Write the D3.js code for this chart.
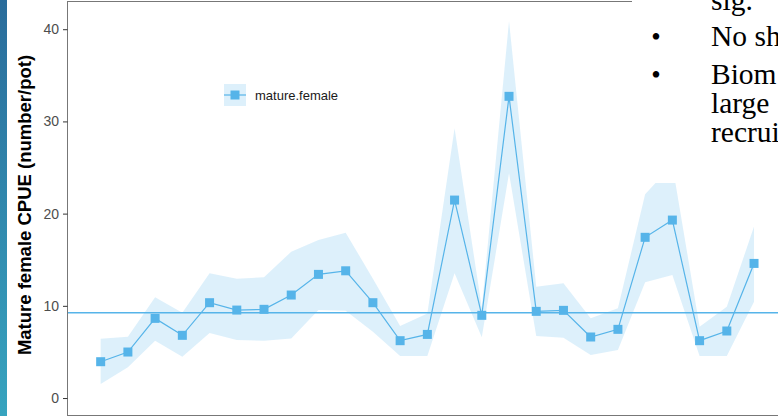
<!DOCTYPE html>
<html>
<head>
<meta charset="utf-8">
<script src="https://cdn.jsdelivr.net/npm/d3@7"></script>
<style>
  html, body { margin: 0; padding: 0; background: #fff; }
  svg { display: block; }
</style>
</head>
<body>
<div id="chart"></div>
<script>
// ---- data ----
const surveys = [1,2,3,4,5,6,7,8,9,10,11,12,13,14,15,16,17,18,19,20,21,22,23,24,25];
const cpueMean  = [3.94,4.99,8.64,6.80,10.34,9.54,9.62,11.17,13.41,13.80,10.34,6.22,6.90,21.47,8.97,32.72,9.40,9.51,6.62,7.45,17.43,19.30,6.22,7.27,14.60];
const cpueUpper = [6.43,6.65,10.92,9.25,13.52,12.94,13.09,15.87,17.14,17.93,12.95,7.80,9.18,29.25,9.80,40.90,12.07,12.44,8.64,9.73,22.10,25.30,7.73,9.90,18.60];
const cpueLower = [1.52,3.33,6.22,4.48,7.05,6.29,6.22,6.47,9.54,9.47,7.19,4.56,4.56,13.52,6.58,24.37,6.72,6.54,4.66,5.20,12.55,13.34,4.56,4.56,10.45];
const longTermMean = 9.25;
const yTicks = [0,10,20,30,40];
const seriesName = "mature.female";
const yTitle = "Mature female CPUE (number/pot)";
const slideLines = [
  {bullet:false, text:"sig."},
  {bullet:true,  text:"No sh"},
  {bullet:true,  text:"Biom"},
  {bullet:false, text:"large"},
  {bullet:false, text:"recrui"}
];

// ---- layout ----
const W = 778, H = 416;
const col = "#56B4E9";
const panel = {left: 68, right: 786.7, top: 1, bottom: 415};

const svg = d3.select("#chart").append("svg")
  .attr("width", W).attr("height", H);

// slide accent strip
const defs = svg.append("defs");
const grad = defs.append("linearGradient").attr("id","strip")
  .attr("x1",0).attr("y1",0).attr("x2",0).attr("y2",1);
grad.append("stop").attr("offset","0%").attr("stop-color","#2a6c9b");
grad.append("stop").attr("offset","100%").attr("stop-color","#37a4bf");
svg.append("rect").attr("x",0).attr("y",0).attr("width",7).attr("height",H)
  .attr("fill","url(#strip)");

defs.append("clipPath").attr("id","panelClip").append("rect")
  .attr("x",panel.left).attr("y",panel.top)
  .attr("width",panel.right-panel.left).attr("height",panel.bottom-panel.top);

const x = d3.scaleLinear().domain([-0.2, 26.2]).range([panel.left, panel.right]);
const y = d3.scaleLinear().domain([-1.84, 43.06]).range([panel.bottom, panel.top]);

const data = surveys.map((s,i)=>({s, m:cpueMean[i], lo:cpueLower[i], hi:cpueUpper[i]}));

const g = svg.append("g").attr("clip-path","url(#panelClip)");

g.append("path").datum(data)
  .attr("d", d3.area().x(d=>x(d.s)).y0(d=>y(d.lo)).y1(d=>y(d.hi)))
  .attr("fill", col).attr("fill-opacity", 0.2);

g.append("line")
  .attr("x1",panel.left).attr("x2",panel.right)
  .attr("y1",y(longTermMean)).attr("y2",y(longTermMean))
  .attr("stroke",col).attr("stroke-width",1.3);

g.append("path").datum(data)
  .attr("d", d3.line().x(d=>x(d.s)).y(d=>y(d.m)))
  .attr("fill","none").attr("stroke",col).attr("stroke-width",1.2);

const ms = 9;
g.selectAll("rect.pt").data(data).join("rect").attr("class","pt")
  .attr("x",d=>x(d.s)-ms/2).attr("y",d=>y(d.m)-ms/2)
  .attr("width",ms).attr("height",ms).attr("fill",col);

// panel border
svg.append("rect")
  .attr("x",panel.left-0.5).attr("y",panel.top+0.5)
  .attr("width",panel.right-panel.left).attr("height",panel.bottom-panel.top)
  .attr("fill","none").attr("stroke","#777").attr("stroke-width",1);

// y axis
const yAxis = svg.append("g").attr("transform",`translate(${panel.left-0.5},0)`)
  .call(d3.axisLeft(y).tickValues(yTicks).tickSize(4.5).tickPadding(4));
yAxis.select(".domain").remove();
yAxis.selectAll(".tick line").attr("stroke","#333");
yAxis.selectAll(".tick text")
  .attr("fill","#4d4d4d").style("font-family","'Liberation Sans', Arial, sans-serif")
  .style("font-size","14px");

svg.append("text")
  .attr("transform",`translate(31,205) rotate(-90)`)
  .attr("text-anchor","middle")
  .style("font-family","'Liberation Sans', Arial, sans-serif")
  .style("font-size","18.5px").style("font-weight","bold").attr("fill","#000")
  .text(yTitle);

// legend
const lg = svg.append("g").attr("transform","translate(224,84)");
lg.append("rect").attr("width",22).attr("height",22).attr("fill",col).attr("fill-opacity",0.2);
lg.append("line").attr("x1",0).attr("x2",22).attr("y1",11).attr("y2",11)
  .attr("stroke",col).attr("stroke-width",1.2);
lg.append("rect").attr("x",11-ms/2).attr("y",11-ms/2).attr("width",ms).attr("height",ms).attr("fill",col);
lg.append("text").attr("x",31).attr("y",15.5)
  .style("font-family","'Liberation Sans', Arial, sans-serif")
  .style("font-size","13px").attr("fill","#1a1a1a").text(seriesName);

// slide text box overlapping the chart
svg.append("rect").attr("x",632).attr("y",0).attr("width",W-632).attr("height",183).attr("fill","#fff");
const baselines = [10,46,84,113,142];
const tb = svg.append("g")
  .style("font-family","'Liberation Serif', 'Times New Roman', serif")
  .style("font-size","29.5px").attr("fill","#000");
slideLines.forEach((ln,i)=>{
  if (ln.bullet) tb.append("text").attr("x",656).attr("y",baselines[i]).attr("text-anchor","middle").style("font-size","27px").text("•");
  tb.append("text").attr("x",711).attr("y",baselines[i]).text(ln.text);
});
</script>
</body>
</html>
